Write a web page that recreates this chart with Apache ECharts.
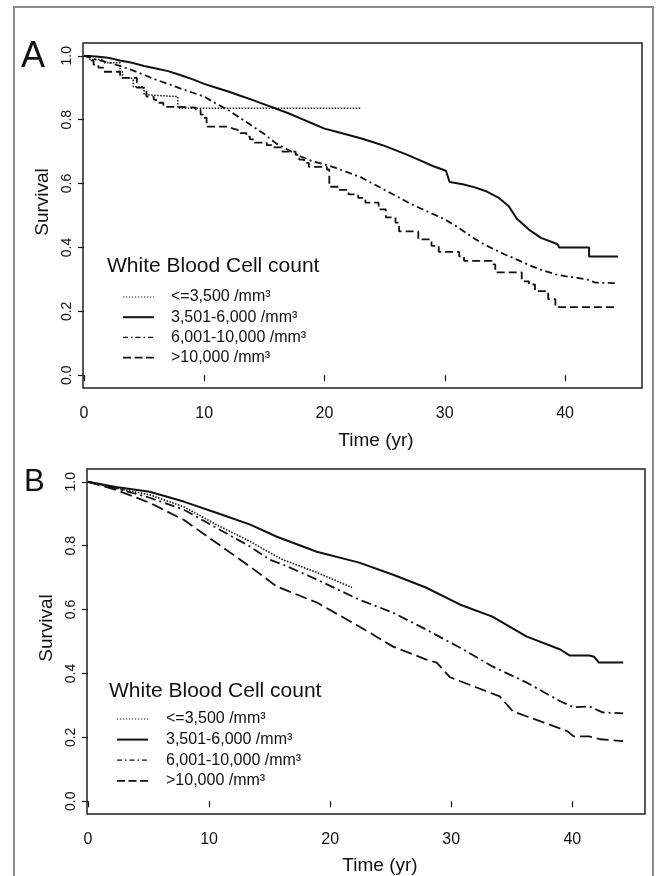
<!DOCTYPE html>
<html>
<head>
<meta charset="utf-8">
<script src="https://cdn.jsdelivr.net/npm/echarts@6/dist/echarts.min.js"></script>
<style>
html,body{margin:0;padding:0;background:#fff;}
#chart{width:658px;height:876px;}
</style>
</head>
<body>
<div id="chart"></div>
<script>
// ---------- DATA ----------
const legendLabels = ['<=3,500 /mm³', '3,501-6,000 /mm³', '6,001-10,000 /mm³', '>10,000 /mm³'];
const xTicks = [0, 10, 20, 30, 40];
const yTicks = [0, 0.2, 0.4, 0.6, 0.8, 1.0];

// Panel A
// <=3,500 and >10,000: Kaplan-Meier steps (time of drop, survival after drop)
const aLowT = [0, 0.5, 1.6, 3.0, 3.2, 3.9, 4.1, 5.0, 5.2, 7.8, 23.1];
const aLowS = [1.0, 0.988, 0.978, 0.95, 0.931, 0.925, 0.903, 0.878, 0.872, 0.836, 0.836];

const aHighT = [0, 0.5, 0.8, 1.2, 1.6, 3.0, 4.4, 4.9, 5.2, 5.8, 6.0, 6.6, 8.0, 9.3, 9.7, 9.9, 10.2, 12.0, 12.4, 13.0, 13.5, 13.8, 14.1, 15.2, 15.6, 16.5, 17.6, 17.9, 18.3, 18.7, 20.2, 20.4, 21.2, 22.0, 22.8, 23.4, 24.5, 25.1, 25.9, 26.2, 27.8, 28.9, 29.5, 31.2, 31.6, 33.9, 34.2, 36.4, 37.0, 37.5, 38.6, 39.2, 44.2];
const aHighS = [1.0, 0.985, 0.972, 0.963, 0.95, 0.931, 0.9, 0.894, 0.872, 0.863, 0.853, 0.84, 0.838, 0.831, 0.816, 0.806, 0.778, 0.772, 0.766, 0.758, 0.747, 0.738, 0.728, 0.72, 0.713, 0.70, 0.69, 0.675, 0.665, 0.652, 0.644, 0.59, 0.58, 0.566, 0.555, 0.54, 0.519, 0.494, 0.478, 0.45, 0.425, 0.405, 0.386, 0.372, 0.358, 0.347, 0.322, 0.294, 0.284, 0.263, 0.238, 0.213, 0.213];

// 3,501-6,000 and 6,001-10,000: many tiny steps, traced as vertices
const aNormT = [0, 1, 2, 3, 4, 5, 6, 7, 8, 9, 10, 11, 12, 13, 14, 15, 16, 17, 18, 19, 20, 21, 22, 23, 24, 25, 26, 27, 28, 29, 30.1, 30.4, 31.5, 32.5, 33.5, 34.5, 35.3, 36, 37, 38, 39.4, 39.5, 42, 42, 44.4];
const aNormS = [1.0, 0.998, 0.994, 0.985, 0.978, 0.968, 0.96, 0.952, 0.94, 0.927, 0.912, 0.9, 0.888, 0.875, 0.862, 0.848, 0.834, 0.82, 0.804, 0.788, 0.772, 0.762, 0.752, 0.742, 0.73, 0.718, 0.703, 0.688, 0.672, 0.655, 0.64, 0.605, 0.598, 0.588, 0.575, 0.555, 0.53, 0.49, 0.456, 0.43, 0.41, 0.40, 0.40, 0.372, 0.372];

const aElevT = [0, 1, 2, 3, 4, 5, 6, 7, 8, 9, 10, 11, 12, 13, 14, 15, 16, 17, 18, 19, 20, 21, 22, 23, 24, 25, 26, 27, 28, 29, 30, 31, 32, 33, 34, 35, 36, 37, 38, 39.2, 40, 41, 42, 42.5, 44.3];
const aElevS = [1.0, 0.988, 0.98, 0.968, 0.955, 0.94, 0.925, 0.912, 0.898, 0.885, 0.872, 0.85, 0.83, 0.805, 0.78, 0.755, 0.725, 0.705, 0.685, 0.67, 0.66, 0.648, 0.634, 0.62, 0.6, 0.58, 0.56, 0.54, 0.522, 0.505, 0.488, 0.465, 0.44, 0.415, 0.396, 0.378, 0.362, 0.345, 0.33, 0.316, 0.31, 0.305, 0.298, 0.29, 0.288];

// Panel B
const bLowT = [0, 2.3, 5.1, 7.9, 10.6, 13.4, 15.3, 16.1, 18.9, 21.8];
const bLowS = [1.0, 0.98, 0.959, 0.922, 0.866, 0.813, 0.772, 0.756, 0.716, 0.669];

const bNormT = [0, 2.3, 5.1, 7.9, 10.6, 13.4, 15.6, 18.9, 22.4, 25.2, 27.9, 30.7, 33.4, 36.2, 39.0, 39.8, 41.4, 41.8, 42.2, 44.2];
const bNormS = [1.0, 0.984, 0.969, 0.938, 0.903, 0.866, 0.828, 0.781, 0.747, 0.709, 0.669, 0.616, 0.578, 0.516, 0.475, 0.456, 0.456, 0.452, 0.434, 0.434];

const bElevT = [0, 2.3, 5.1, 7.9, 10.6, 13.4, 15.0, 16.1, 18.9, 22.4, 25.2, 27.9, 30.7, 33.4, 36.2, 39.0, 40.1, 41.4, 42.5, 44.2];
const bElevS = [1.0, 0.98, 0.95, 0.913, 0.856, 0.797, 0.756, 0.741, 0.694, 0.631, 0.59, 0.538, 0.481, 0.422, 0.372, 0.313, 0.294, 0.297, 0.278, 0.275];

const bHighT = [0, 2.3, 5.1, 7.9, 10.6, 13.4, 15.6, 18.9, 22.4, 25.2, 27.9, 28.8, 29.9, 32.1, 34.0, 35.1, 37.6, 39.6, 40.1, 41.4, 42.3, 44.2];
const bHighS = [1.0, 0.975, 0.934, 0.881, 0.809, 0.734, 0.672, 0.622, 0.547, 0.484, 0.444, 0.434, 0.388, 0.356, 0.328, 0.281, 0.247, 0.219, 0.203, 0.203, 0.194, 0.188];

// ---------- BUILD ----------
const FONT = "'Liberation Sans', Arial, Helvetica, sans-serif";
const INK = '#111';
const zip = (t, s) => t.map((v, i) => [v, s[i]]);

const styA = [
  { type: [1.5, 1.5], width: 1.5 },
  { type: 'solid', width: 2 },
  { type: [7, 3.5, 2, 3.5], width: 1.8 },
  { type: [8, 4], width: 1.8 }
];
const styB = [
  { type: [1.5, 1.5], width: 1.6 },
  { type: 'solid', width: 2 },
  { type: [10, 4, 2, 4], width: 1.8 },
  { type: [12, 5], width: 1.8 }
];
const styLeg = [
  { type: [1.2, 1.8], width: 1.2 },
  { type: 'solid', width: 2 },
  { type: [5, 3, 1.5, 3], width: 1.3 },
  { type: [8, 3.5], width: 1.8 }
];

function mkSeries(name, data, idx, sty, step) {
  return {
    type: 'line', name: name, data: data,
    xAxisIndex: idx, yAxisIndex: idx,
    step: step ? 'end' : false,
    symbol: 'none', showSymbol: false, silent: true,
    lineStyle: { color: INK, width: sty.width, type: sty.type, cap: 'butt' },
    itemStyle: { color: INK },
    emphasis: { disabled: true }
  };
}

const series = [
  mkSeries(legendLabels[0], zip(aLowT, aLowS), 0, styA[0], true),
  mkSeries(legendLabels[1], zip(aNormT, aNormS), 0, styA[1], false),
  mkSeries(legendLabels[2], zip(aElevT, aElevS), 0, styA[2], false),
  mkSeries(legendLabels[3], zip(aHighT, aHighS), 0, styA[3], true),
  mkSeries(legendLabels[0], zip(bLowT, bLowS), 1, styB[0], false),
  mkSeries(legendLabels[1], zip(bNormT, bNormS), 1, styB[1], false),
  mkSeries(legendLabels[2], zip(bElevT, bElevS), 1, styB[2], false),
  mkSeries(legendLabels[3], zip(bHighT, bHighS), 1, styB[3], false)
];

function xAx(idx, min, max) {
  return {
    type: 'value', gridIndex: idx, min: min, max: max,
    axisLine: { show: false },
    splitLine: { show: false },
    axisTick: { show: true, length: 6, customValues: xTicks, lineStyle: { color: INK, width: 1.2 } },
    axisLabel: { customValues: xTicks, margin: 18, fontSize: 16, fontFamily: FONT, color: INK }
  };
}
function yAx(idx) {
  return {
    type: 'value', gridIndex: idx, min: -0.04, max: 1.04,
    axisLine: { show: false },
    splitLine: { show: false },
    axisTick: { show: true, length: 6, customValues: yTicks, lineStyle: { color: INK, width: 1.2 } },
    axisLabel: { customValues: yTicks, rotate: 90, margin: 9, fontSize: 14, fontFamily: FONT, color: INK,
      formatter: v => v.toFixed(1) }
  };
}

function legendData() {
  return legendLabels.map((n, i) => ({
    name: n,
    lineStyle: { color: INK, width: styLeg[i].width, type: styLeg[i].type, cap: 'butt' },
    itemStyle: { color: 'rgba(0,0,0,0)', borderWidth: 0, opacity: 0 }
  }));
}
function mkLegend(left, top, pad, gap) {
  return {
    orient: 'vertical', left: left, top: top, padding: 0,
    itemWidth: 31, itemHeight: 14, itemGap: gap,
    selectedMode: false,
    data: legendData(),
    itemStyle: { color: 'rgba(0,0,0,0)', borderWidth: 0, opacity: 0 },
    textStyle: { fontFamily: FONT, fontSize: 16, color: INK, lineHeight: 16, padding: [0, 0, 0, pad] }
  };
}

function txt(text, x, y, size) {
  return {
    type: 'text', x: x, y: y, silent: true,
    style: { text: text, fontFamily: FONT, fontSize: size, fill: INK, align: 'left', verticalAlign: 'middle' }
  };
}
function ctxt(text, x, y, size, rot) {
  return {
    type: 'text', x: x, y: y, rotation: rot || 0, silent: true,
    style: { text: text, fontFamily: FONT, fontSize: size, fill: INK, align: 'center', verticalAlign: 'middle' }
  };
}

const option = {
  animation: false,
  backgroundColor: '#fff',
  grid: [
    { left: 83, top: 43, width: 559, height: 345, show: true, borderColor: '#222', borderWidth: 1.5, backgroundColor: 'transparent' },
    { left: 87, top: 469, width: 558, height: 345, show: true, borderColor: '#222', borderWidth: 1.5, backgroundColor: 'transparent' }
  ],
  xAxis: [xAx(0, -0.08, 46.4), xAx(1, -0.08, 46.0)],
  yAxis: [yAx(0), yAx(1)],
  legend: [mkLegend(122, 289, 12, 4.2), mkLegend(116, 711, 13, 4.6)],
  series: series,
  graphic: [
    { type: 'rect', shape: { x: 14, y: 7, width: 639, height: 885 }, style: { fill: 'none', stroke: '#8c8c8c', lineWidth: 2 }, silent: true },
    txt('A', 21, 57, 36),
    txt('B', 24, 482, 31),
    ctxt('Survival', 43, 202, 19, Math.PI / 2),
    ctxt('Survival', 47, 628, 19, Math.PI / 2),
    ctxt('Time (yr)', 376, 441, 19),
    ctxt('Time (yr)', 380, 866, 19),
    txt('White Blood Cell count', 107, 266, 21),
    txt('White Blood Cell count', 109, 691, 21)
  ]
};

const chart = echarts.init(document.getElementById('chart'), null, { renderer: 'canvas' });
chart.setOption(option);
</script>
</body>
</html>
